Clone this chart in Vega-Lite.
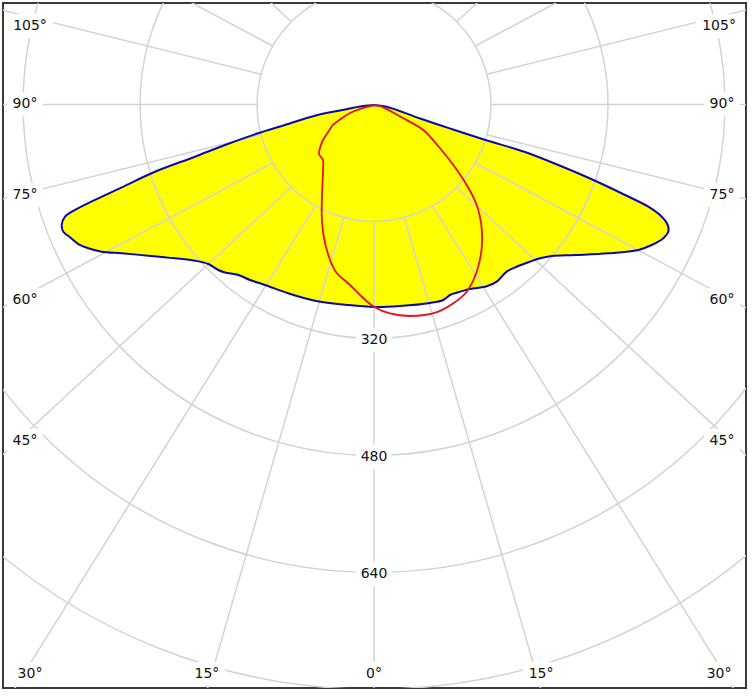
{
  "$schema": "https://vega.github.io/schema/vega-lite/v6.json",
  "width": 743,
  "height": 685,
  "autosize": {"type": "none"},
  "padding": {"left": 3, "top": 3, "right": 7, "bottom": 8},
  "background": "white",
  "config": {"view": {"stroke": "#3a3a3a", "strokeWidth": 2}},
  "datasets": {
    "blue": [
      {"i": 1, "x": 0, "y": 0.7}, {"i": 2, "x": -15.0, "y": 2.1}, {"i": 3, "x": -46.5, "y": 8.2},
      {"i": 4, "x": -80.7, "y": 15.3}, {"i": 5, "x": -121.8, "y": 28.0}, {"i": 6, "x": -158.8, "y": 39.4},
      {"i": 7, "x": -203.8, "y": 55.4}, {"i": 8, "x": -244.9, "y": 71.4}, {"i": 9, "x": -299.6, "y": 92.0},
      {"i": 10, "x": -345.1, "y": 113.3}, {"i": 11, "x": -381.7, "y": 130.6}, {"i": 12, "x": -409.0, "y": 144.3},
      {"i": 13, "x": -422.7, "y": 153.5}, {"i": 14, "x": -427.2, "y": 164.8}, {"i": 15, "x": -425.0, "y": 174.0},
      {"i": 16, "x": -415.9, "y": 181.7}, {"i": 17, "x": -404.5, "y": 190.9}, {"i": 18, "x": -390.8, "y": 196.7},
      {"i": 19, "x": -372.5, "y": 201.4}, {"i": 20, "x": -345.1, "y": 203.6}, {"i": 21, "x": -308.8, "y": 206.8},
      {"i": 22, "x": -272.2, "y": 210.4}, {"i": 23, "x": -244.9, "y": 213.7}, {"i": 24, "x": -226.7, "y": 218.2},
      {"i": 25, "x": -213.0, "y": 226.4}, {"i": 26, "x": -203.8, "y": 229.8}, {"i": 27, "x": -185.6, "y": 233.2},
      {"i": 28, "x": -169.6, "y": 240.1}, {"i": 29, "x": -149.1, "y": 246.9}, {"i": 30, "x": -117.2, "y": 258.3},
      {"i": 31, "x": -80.7, "y": 268.4}, {"i": 32, "x": -35.2, "y": 274.3}, {"i": 33, "x": 0.7, "y": 277.0},
      {"i": 34, "x": 35.6, "y": 275.7}, {"i": 35, "x": 76.6, "y": 271.5}, {"i": 36, "x": 94.8, "y": 267.4},
      {"i": 37, "x": 104.0, "y": 260.6}, {"i": 38, "x": 113.1, "y": 257.5}, {"i": 39, "x": 131.3, "y": 252.4},
      {"i": 40, "x": 154.2, "y": 248.7}, {"i": 41, "x": 167.9, "y": 242.4}, {"i": 42, "x": 181.5, "y": 228.7},
      {"i": 43, "x": 195.2, "y": 221.9}, {"i": 44, "x": 213.4, "y": 215.0}, {"i": 45, "x": 227.1, "y": 210.4},
      {"i": 46, "x": 243.1, "y": 207.3}, {"i": 47, "x": 275.0, "y": 205.9}, {"i": 48, "x": 320.5, "y": 203.6},
      {"i": 49, "x": 361.6, "y": 199.0}, {"i": 50, "x": 379.9, "y": 192.2}, {"i": 51, "x": 395.8, "y": 183.0},
      {"i": 52, "x": 402.6, "y": 174.0}, {"i": 53, "x": 401.8, "y": 164.8}, {"i": 54, "x": 393.6, "y": 153.5},
      {"i": 55, "x": 375.2, "y": 139.8}, {"i": 56, "x": 343.4, "y": 123.8}, {"i": 57, "x": 297.8, "y": 102.3},
      {"i": 58, "x": 252.1, "y": 82.8}, {"i": 59, "x": 206.6, "y": 65.0}, {"i": 60, "x": 154.6, "y": 49.2},
      {"i": 61, "x": 108.1, "y": 34.2}, {"i": 62, "x": 62.9, "y": 19.2}, {"i": 63, "x": 17.4, "y": 3.0},
      {"i": 64, "x": 0, "y": 0.7}
    ],
    "red": [
      {"i": 1, "x": -2.7, "y": 1.4}, {"i": 2, "x": -16.8, "y": 5.2}, {"i": 3, "x": -32.8, "y": 11.6},
      {"i": 4, "x": -44.2, "y": 18.9}, {"i": 5, "x": -56.1, "y": 28.0}, {"i": 6, "x": -62.5, "y": 37.2},
      {"i": 7, "x": -69.8, "y": 48.6}, {"i": 8, "x": -73.9, "y": 59.5}, {"i": 9, "x": -75.2, "y": 67.7},
      {"i": 10, "x": -72.5, "y": 71.8}, {"i": 11, "x": -69.8, "y": 75.9}, {"i": 12, "x": -69.8, "y": 92.3},
      {"i": 13, "x": -71.1, "y": 123.8}, {"i": 14, "x": -71.5, "y": 151.2}, {"i": 15, "x": -69.1, "y": 178.5},
      {"i": 16, "x": -62.5, "y": 205.9}, {"i": 17, "x": -52.0, "y": 229.1}, {"i": 18, "x": -32.8, "y": 246.9},
      {"i": 19, "x": -16.4, "y": 263.3}, {"i": 20, "x": 0, "y": 276.6}, {"i": 21, "x": 21.9, "y": 285.9},
      {"i": 22, "x": 49.2, "y": 289.3}, {"i": 23, "x": 86.2, "y": 283.9}, {"i": 24, "x": 108.5, "y": 272.0},
      {"i": 25, "x": 126.8, "y": 256.1}, {"i": 26, "x": 140.5, "y": 228.7}, {"i": 27, "x": 147.3, "y": 196.7},
      {"i": 28, "x": 147.3, "y": 169.4}, {"i": 29, "x": 140.5, "y": 137.5}, {"i": 30, "x": 126.8, "y": 110.1},
      {"i": 31, "x": 108.5, "y": 82.8}, {"i": 32, "x": 90.3, "y": 59.9}, {"i": 33, "x": 67.4, "y": 34.9},
      {"i": 34, "x": 40.1, "y": 18.9}, {"i": 35, "x": 8.2, "y": 2.1}, {"i": 36, "x": -2.7, "y": 1.4}
    ],
    "circles": [{"r": 160}, {"r": 320}, {"r": 480}, {"r": 640}, {"r": 800}],
    "rays": [
      {"angle": 0, "x1": 0, "y1": 160, "x2": 0, "y2": 1000},
      {"angle": 15, "x1": -41.4, "y1": 154.5, "x2": -276.1, "y2": 965.9},
      {"angle": -15, "x1": 41.4, "y1": 154.5, "x2": 276.1, "y2": 965.9},
      {"angle": 30, "x1": -80, "y1": 138.6, "x2": -533.5, "y2": 866.0},
      {"angle": -30, "x1": 80, "y1": 138.6, "x2": 533.5, "y2": 866.0},
      {"angle": 45, "x1": -113.1, "y1": 113.1, "x2": -754.5, "y2": 707.1},
      {"angle": -45, "x1": 113.1, "y1": 113.1, "x2": 754.5, "y2": 707.1},
      {"angle": 60, "x1": -138.6, "y1": 80, "x2": -924.0, "y2": 500},
      {"angle": -60, "x1": 138.6, "y1": 80, "x2": 924.0, "y2": 500},
      {"angle": 75, "x1": -154.5, "y1": 41.4, "x2": -1030.6, "y2": 258.8},
      {"angle": -75, "x1": 154.5, "y1": 41.4, "x2": 1030.6, "y2": 258.8},
      {"angle": 90, "x1": -160, "y1": 0, "x2": -1067, "y2": 0},
      {"angle": -90, "x1": 160, "y1": 0, "x2": 1067, "y2": 0},
      {"angle": 105, "x1": -154.5, "y1": -41.4, "x2": -1030.6, "y2": -258.8},
      {"angle": -105, "x1": 154.5, "y1": -41.4, "x2": 1030.6, "y2": -258.8},
      {"angle": 120, "x1": -138.6, "y1": -80, "x2": -924.0, "y2": -500},
      {"angle": -120, "x1": 138.6, "y1": -80, "x2": 924.0, "y2": -500},
      {"angle": 135, "x1": -113.1, "y1": -113.1, "x2": -754.5, "y2": -707.1},
      {"angle": -135, "x1": 113.1, "y1": -113.1, "x2": 754.5, "y2": -707.1},
      {"angle": 150, "x1": -80, "y1": -138.6, "x2": -533.5, "y2": -866.0},
      {"angle": -150, "x1": 80, "y1": -138.6, "x2": 533.5, "y2": -866.0},
      {"angle": 165, "x1": -41.4, "y1": -154.5, "x2": -276.1, "y2": -965.9},
      {"angle": -165, "x1": 41.4, "y1": -154.5, "x2": 276.1, "y2": -965.9}
    ],
    "labels": [
      {"label": "105°", "x": -470.6, "y": -107.4}, {"label": "105°", "x": 472.0, "y": -107.4},
      {"label": "90°", "x": -477.4, "y": 0}, {"label": "90°", "x": 476.1, "y": 0},
      {"label": "75°", "x": -477.4, "y": 123.8}, {"label": "75°", "x": 476.1, "y": 123.8},
      {"label": "60°", "x": -477.4, "y": 267.4}, {"label": "60°", "x": 476.1, "y": 267.4},
      {"label": "45°", "x": -477.4, "y": 460.3}, {"label": "45°", "x": 476.1, "y": 460.3},
      {"label": "30°", "x": -470.6, "y": 779.1}, {"label": "30°", "x": 472.0, "y": 779.1},
      {"label": "15°", "x": -228.5, "y": 779.1}, {"label": "15°", "x": 228.5, "y": 779.1},
      {"label": "0°", "x": 0, "y": 779.1},
      {"label": "320", "x": 0, "y": 322}, {"label": "480", "x": 0, "y": 482}, {"label": "640", "x": 0, "y": 642}
    ]
  },
  "layer": [
    {
      "data": {"name": "blue"},
      "mark": {"type": "line", "fill": "#ffff00", "stroke": "#ffff00", "strokeWidth": 0.5, "interpolate": "catmull-rom"},
      "encoding": {
        "x": {"field": "x", "type": "quantitative", "scale": {"domain": [-507.52, 508.89], "nice": false, "zero": false}, "axis": null},
        "y": {"field": "y", "type": "quantitative", "scale": {"domain": [-138.85, 798.22], "nice": false, "zero": false, "reverse": true}, "axis": null},
        "order": {"field": "i", "type": "quantitative"}
      }
    },
    {
      "data": {"name": "circles"},
      "mark": {"type": "arc", "filled": false, "stroke": "#d3d3d3", "strokeWidth": 1.5, "clip": true},
      "encoding": {
        "x": {"datum": 0, "type": "quantitative"},
        "y": {"datum": 0, "type": "quantitative"},
        "theta": {"datum": -180, "type": "quantitative", "stack": null, "scale": {"type": "linear", "domain": [-180, 180], "range": [0, 6.283185307179586], "zero": false, "nice": false}},
        "theta2": {"datum": 180},
        "radius": {"field": "r", "type": "quantitative", "stack": null, "scale": {"type": "linear", "domain": [0, 1000], "range": [0, 731], "zero": true, "nice": false}}
      }
    },
    {
      "data": {"name": "rays"},
      "mark": {"type": "rule", "stroke": "#d3d3d3", "strokeWidth": 1.5, "clip": true},
      "encoding": {
        "x": {"field": "x1", "type": "quantitative"},
        "y": {"field": "y1", "type": "quantitative"},
        "x2": {"field": "x2"},
        "y2": {"field": "y2"}
      }
    },
    {
      "data": {"name": "labels"},
      "transform": [{"filter": "length(datum.label) == 4"}],
      "mark": {"type": "point", "shape": "M-1,-0.52H1V0.52H-1Z", "size": 2116, "filled": true, "fill": "white", "opacity": 1, "strokeWidth": 0},
      "encoding": {"x": {"field": "x", "type": "quantitative"}, "y": {"field": "y", "type": "quantitative"}}
    },
    {
      "data": {"name": "labels"},
      "transform": [{"filter": "length(datum.label) == 3"}],
      "mark": {"type": "point", "shape": "M-1,-0.667H1V0.667H-1Z", "size": 1296, "filled": true, "fill": "white", "opacity": 1, "strokeWidth": 0},
      "encoding": {"x": {"field": "x", "type": "quantitative"}, "y": {"field": "y", "type": "quantitative"}}
    },
    {
      "data": {"name": "labels"},
      "transform": [{"filter": "length(datum.label) == 2"}],
      "mark": {"type": "point", "shape": "M-1,-0.857H1V0.857H-1Z", "size": 784, "filled": true, "fill": "white", "opacity": 1, "strokeWidth": 0},
      "encoding": {"x": {"field": "x", "type": "quantitative"}, "y": {"field": "y", "type": "quantitative"}}
    },
    {
      "data": {"name": "labels"},
      "mark": {"type": "text", "font": "DejaVu Sans", "fontSize": 14, "color": "#111111", "align": "center", "baseline": "middle"},
      "encoding": {"x": {"field": "x", "type": "quantitative"}, "y": {"field": "y", "type": "quantitative"}, "text": {"field": "label"}}
    },
    {
      "data": {"name": "blue"},
      "mark": {"type": "line", "stroke": "#0a0aa8", "strokeWidth": 2, "interpolate": "catmull-rom"},
      "encoding": {
        "x": {"field": "x", "type": "quantitative"},
        "y": {"field": "y", "type": "quantitative"},
        "order": {"field": "i", "type": "quantitative"}
      }
    },
    {
      "data": {"name": "red"},
      "mark": {"type": "line", "stroke": "#e8101a", "strokeWidth": 1.8, "interpolate": "catmull-rom"},
      "encoding": {
        "x": {"field": "x", "type": "quantitative"},
        "y": {"field": "y", "type": "quantitative"},
        "order": {"field": "i", "type": "quantitative"}
      }
    }
  ]
}
